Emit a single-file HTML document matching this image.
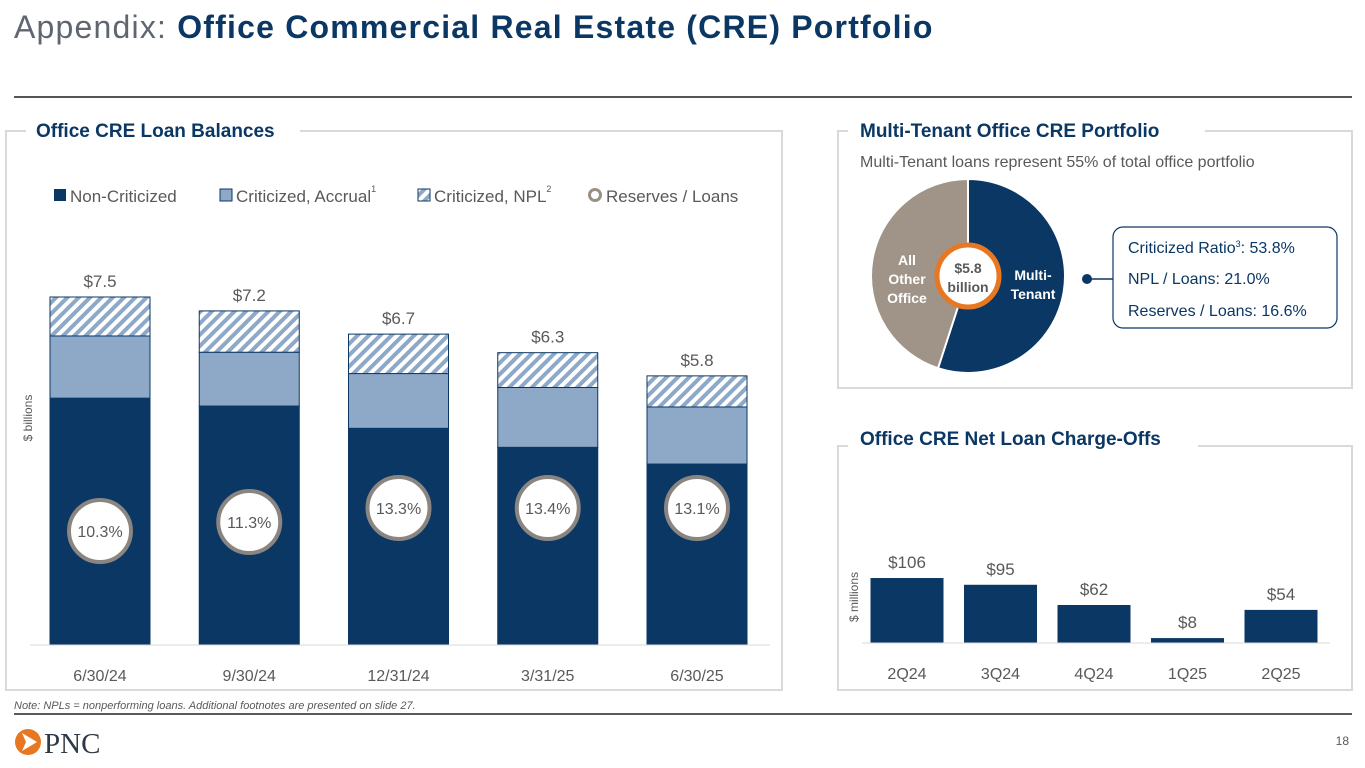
<!DOCTYPE html>
<html><head><meta charset="utf-8">
<style>
body{margin:0;width:1365px;height:768px;background:#fff;font-family:"Liberation Sans",sans-serif;overflow:hidden;position:relative}
svg{position:absolute;left:0;top:0}
</style></head>
<body>
<svg width="1365" height="768" viewBox="0 0 1365 768">
<defs>
<pattern id="hatch" patternUnits="userSpaceOnUse" width="8" height="8" patternTransform="rotate(45)">
<rect width="8" height="8" fill="#fff"/><rect width="4" height="8" fill="#8ea9c7"/>
</pattern>
</defs>
<text x="14" y="38" font-size="32" letter-spacing="1.2" fill="#5f6670">Appendix: <tspan font-weight="bold" fill="#0b3764">Office Commercial Real Estate (CRE) Portfolio</tspan></text>
<line x1="14" y1="97" x2="1352" y2="97" stroke="#555" stroke-width="2"/>

<path d="M26 131 H6 V690 H782 V131 H300" fill="none" stroke="#d9d9d9" stroke-width="2"/>
<text x="36" y="137" font-size="19" font-weight="bold" fill="#0b3764">Office CRE Loan Balances</text>
<g font-size="17" fill="#595959">
<rect x="54" y="189" width="12" height="12" fill="#0b3764"/>
<text x="70" y="202">Non-Criticized</text>
<rect x="220" y="189" width="12" height="12" fill="#8ea9c7" stroke="#0b3764" stroke-width="1"/>
<text x="236" y="202">Criticized, Accrual<tspan font-size="9" dy="-10">1</tspan></text>
<rect x="418" y="189" width="12" height="12" fill="url(#hatch)" stroke="#0b3764" stroke-width="1"/>
<text x="434" y="202">Criticized, NPL<tspan font-size="9" dy="-10">2</tspan></text>
<circle cx="595" cy="195" r="5.5" fill="#fff" stroke="#9a8f84" stroke-width="3"/>
<text x="606" y="202">Reserves / Loans</text>
</g>
<text transform="translate(32,418) rotate(-90)" font-size="12" fill="#595959" text-anchor="middle">$ billions</text>
<g id="leftChart"></g>

<path d="M848 131 H838 V388 H1352 V131 H1205" fill="none" stroke="#d9d9d9" stroke-width="2"/>
<text x="860" y="137" font-size="19" font-weight="bold" fill="#0b3764">Multi-Tenant Office CRE Portfolio</text>
<text x="860" y="167" font-size="16" fill="#595959">Multi-Tenant loans represent 55% of total office portfolio</text>
<g id="pie"></g>
<circle cx="968" cy="276" r="31" fill="#fff" stroke="#e87722" stroke-width="5"/>
<text x="968" y="273" font-size="14" font-weight="bold" fill="#595959" text-anchor="middle">$5.8</text>
<text x="968" y="292" font-size="14" font-weight="bold" fill="#595959" text-anchor="middle">billion</text>
<g font-size="14" font-weight="bold" fill="#fff" text-anchor="middle">
<text x="907" y="265">All</text>
<text x="907" y="284">Other</text>
<text x="907" y="303">Office</text>
<text x="1033" y="280">Multi-</text>
<text x="1033" y="299">Tenant</text>
</g>
<circle cx="1087" cy="279" r="5" fill="#0b3764"/>
<line x1="1087" y1="279" x2="1113" y2="279" stroke="#0b3764" stroke-width="1.5"/>
<rect x="1113" y="227" width="224" height="101" rx="10" fill="#fff" stroke="#0b3764" stroke-width="1.2"/>
<g font-size="16" fill="#0b3764">
<text x="1128" y="253">Criticized Ratio<tspan font-size="9" dy="-6">3</tspan><tspan dy="6">: 53.8%</tspan></text>
<text x="1128" y="284">NPL / Loans: 21.0%</text>
<text x="1128" y="316">Reserves / Loans: 16.6%</text>
</g>

<path d="M848 446 H838 V690 H1352 V446 H1198" fill="none" stroke="#d9d9d9" stroke-width="2"/>
<text x="860" y="445" font-size="19" font-weight="bold" fill="#0b3764">Office CRE Net Loan Charge-Offs</text>
<text transform="translate(858,597) rotate(-90)" font-size="12" fill="#595959" text-anchor="middle">$ millions</text>
<g id="rightChart"></g>

<text x="14" y="709" font-size="11" font-style="italic" fill="#595959">Note: NPLs = nonperforming loans. Additional footnotes are presented on slide 27.</text>
<line x1="14" y1="714" x2="1352" y2="714" stroke="#222" stroke-width="1.5"/>
<g>
<circle cx="28" cy="742" r="13" fill="#e87722"/>
<path d="M22 733 L37 742 L22 751 L26 742 Z" fill="#fff"/>
<text x="44" y="753" font-family="Liberation Serif,serif" font-size="29" fill="#2d3a45">PNC</text>
</g>
<text x="1349" y="745" font-size="12" fill="#595959" text-anchor="end">18</text>
</svg>
<script>
const NS='http://www.w3.org/2000/svg';
const dates=['6/30/24','9/30/24','12/31/24','3/31/25','6/30/25'];
const nonCrit=[5.32,5.15,4.67,4.26,3.90];
const accrual=[1.34,1.16,1.18,1.29,1.23];
const npl=[0.84,0.89,0.85,0.75,0.67];
const totals=['$7.5','$7.2','$6.7','$6.3','$5.8'];
const reserves=[10.3,11.3,13.3,13.4,13.1];
const quarters=['2Q24','3Q24','4Q24','1Q25','2Q25'];
const chargeOffs=[106,95,62,8,54];
const pieShares=[55,45];
const pieNames=['multi-tenant','all-other-office'];

function mk(tag,attrs,parent,txt){const e=document.createElementNS(NS,tag);for(const k in attrs)e.setAttribute(k,attrs[k]);if(txt!=null)e.textContent=txt;parent.appendChild(e);return e;}

const L=document.getElementById('leftChart');
const base=645, pxPerB=46.4, x0=100, step=149.25, bw=100;
const yB=v=>base-v*pxPerB;
dates.forEach((d,i)=>{
  const cx=x0+i*step, x=cx-bw/2;
  let cum=0;
  const segs=[[nonCrit[i],'#0b3764','non-criticized'],[accrual[i],'#8ea9c7','criticized-accrual'],[npl[i],'url(#hatch)','criticized-npl']];
  segs.forEach(s=>{
    const r=mk('rect',{x:x,y:yB(cum+s[0]),width:bw,height:s[0]*pxPerB,fill:s[1],stroke:'#0b3764','stroke-width':1},L);
    
    
    cum+=s[0];
  });
  const t=mk('text',{x:cx,y:yB(cum)-10,'font-size':17,fill:'#595959','text-anchor':'middle'},L,totals[i]);
  
  
  const cy=Math.max(508,531-(reserves[i]-10.3)*9);
  const c=mk('circle',{cx:cx,cy:cy,r:31,fill:'#fff',stroke:'#8a8580','stroke-width':4},L);
  
  
  const rt=mk('text',{x:cx,y:cy+6,'font-size':16,fill:'#595959','text-anchor':'middle'},L,reserves[i].toFixed(1)+'%');
  
  
  const xl=mk('text',{x:cx,y:681,'font-size':16,fill:'#595959','text-anchor':'middle'},L,d);
  
  
});
const la=mk('line',{x1:30,y1:base,x2:770,y2:base,stroke:'#d9d9d9','stroke-width':1},L);



const P=document.getElementById('pie');
const pcx=968,pcy=276,pr=97;
let a0=0;
pieShares.forEach((s,i)=>{
  const a1=a0+s/100*2*Math.PI;
  const p=(a)=>[pcx+pr*Math.sin(a),pcy-pr*Math.cos(a)];
  const [x1,y1]=p(a0),[x2,y2]=p(a1);
  const large=(a1-a0)>Math.PI?1:0;
  const path=mk('path',{d:`M${pcx} ${pcy} L${x1} ${y1} A${pr} ${pr} 0 ${large} 1 ${x2} ${y2} Z`,fill:i==0?'#0b3764':'#a09488',stroke:'#fff','stroke-width':2},P);
  
  
  a0=a1;
});

const R=document.getElementById('rightChart');
const rb=643, pxPerM=0.613, rx0=907, rstep=93.5, rbw=73;
const yM=v=>rb-v*pxPerM;
quarters.forEach((q,i)=>{
  const cx=rx0+i*rstep;
  const r=mk('rect',{x:cx-rbw/2,y:yM(chargeOffs[i]),width:rbw,height:chargeOffs[i]*pxPerM,fill:'#0b3764'},R);
  
  
  const t=mk('text',{x:cx,y:yM(chargeOffs[i])-10,'font-size':17,fill:'#595959','text-anchor':'middle'},R,'$'+chargeOffs[i]);
  
  
  const xl=mk('text',{x:cx,y:679,'font-size':16,fill:'#595959','text-anchor':'middle'},R,q);
  
  
});
const ra=mk('line',{x1:862,y1:rb,x2:1330,y2:rb,stroke:'#d9d9d9','stroke-width':1},R);


</script>
</body></html>
